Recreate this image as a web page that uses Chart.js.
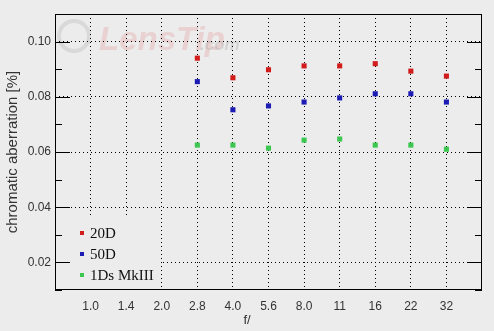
<!DOCTYPE html>
<html>
<head>
<meta charset="utf-8">
<script src="https://cdn.jsdelivr.net/npm/chart.js@4"></script>
<style>
html, body { margin: 0; padding: 0; background: #ececec; }
#wrap { width: 494px; height: 331px; }
</style>
</head>
<body>
<div id="wrap"><canvas id="myChart"></canvas></div>
<script>
const fStops = ['1.0', '1.4', '2.0', '2.8', '4.0', '5.6', '8.0', '11', '16', '22', '32'];
const ca20D = [null, null, null, 0.0940, 0.0869, 0.0898, 0.0912, 0.0912, 0.0920, 0.0893, 0.0875];
const ca50D = [null, null, null, 0.0855, 0.0753, 0.0767, 0.0781, 0.0796, 0.0811, 0.0811, 0.0781];
const ca1Ds = [null, null, null, 0.0625, 0.0625, 0.0614, 0.0643, 0.0647, 0.0625, 0.0625, 0.0610];
const seriesNames = ['20D', '50D', '1Ds MkIII'];
const seriesColors = ['#d21c1c', '#1c1cb4', '#3cc850'];

function points(arr) {
    return arr.map((v, i) => v === null ? null : { x: i + 1, y: v }).filter(p => p);
}

const extras = {
    id: 'extras',
    beforeDraw(chart) {
        // faint LensTip watermark
        const { ctx, chartArea: a } = chart;
        ctx.save();
        ctx.strokeStyle = 'rgba(160,160,160,0.25)';
        ctx.lineWidth = 4;
        ctx.beginPath();
        ctx.arc(a.left + 19, a.top + 22, 15, 0, Math.PI * 2);
        ctx.stroke();
        ctx.fillStyle = 'rgba(225,140,140,0.28)';
        ctx.font = 'italic bold 33px "Liberation Sans", Arial, sans-serif';
        ctx.textBaseline = 'alphabetic';
        ctx.fillText('LensTip', a.left + 44, a.top + 36);
        ctx.fillStyle = 'rgba(150,150,150,0.28)';
        ctx.font = 'italic bold 17px "Liberation Sans", Arial, sans-serif';
        ctx.fillText('.com', a.left + 145, a.top + 36);
        ctx.restore();
    },
    beforeDatasetsDraw(chart) {
        const { ctx, chartArea: a, scales: { y } } = chart;
        ctx.save();
        // legend box
        ctx.fillStyle = '#ececec';
        ctx.fillRect(a.left, a.bottom - 75, 106, 75);
        // inward ticks on both sides
        ctx.strokeStyle = '#000';
        ctx.lineWidth = 1;
        for (let v = 1; v <= 11; v++) {
            const py = Math.round(y.getPixelForValue(v / 100)) + 0.5;
            const len = v % 2 === 0 ? 15 : 7;
            ctx.beginPath();
            ctx.moveTo(a.left, py); ctx.lineTo(a.left + len, py);
            ctx.moveTo(a.right - len, py); ctx.lineTo(a.right, py);
            ctx.stroke();
        }
        // frame
        ctx.strokeRect(a.left + 0.5, a.top + 0.5, a.right - a.left - 1, a.bottom - a.top - 1);
        // legend
        ctx.font = '15px "Liberation Serif", "Times New Roman", serif';
        ctx.textBaseline = 'middle';
        seriesNames.forEach((name, i) => {
            const cy = a.bottom - 57 + i * 21;
            ctx.fillStyle = seriesColors[i];
            ctx.fillRect(a.left + 25, Math.round(cy) - 2, 4, 4);
            ctx.fillStyle = '#111';
            ctx.fillText(name, a.left + 35, cy + 1);
        });
        // x title
        ctx.fillStyle = '#333';
        ctx.font = '13px "Liberation Sans", Arial, sans-serif';
        ctx.textAlign = 'center';
        ctx.fillText('f/', 247, 320);
        ctx.restore();
    }
};

const ctx = document.getElementById('myChart');
new Chart(ctx, {
    type: 'scatter',
    data: {
        datasets: [ca20D, ca50D, ca1Ds].map((arr, i) => ({
            label: seriesNames[i],
            data: points(arr),
            pointStyle: 'rect',
            pointRadius: 3.6,
            pointHoverRadius: 3.6,
            borderWidth: 0,
            backgroundColor: seriesColors[i]
        }))
    },
    options: {
        responsive: true,
        maintainAspectRatio: false,
        animation: false,
        layout: { padding: { top: 14, right: 12, left: 0, bottom: 0 } },
        plugins: {
            legend: { display: false },
            tooltip: { enabled: false }
        },
        scales: {
            x: {
                type: 'linear',
                min: 0,
                max: 12,
                afterFit(scale) { scale.height = 41; },
                ticks: {
                    stepSize: 1,
                    padding: 9,
                    color: '#333',
                    font: { family: '"Liberation Sans", Arial, sans-serif', size: 12 },
                    callback: v => fStops[v - 1] || ''
                },
                grid: {
                    drawTicks: false,
                    color: c => (c.tick && c.tick.value >= 1 && c.tick.value <= 11) ? '#000' : 'rgba(0,0,0,0)'
                },
                border: { display: false, dash: [1, 3] }
            },
            y: {
                min: 0.01,
                max: 0.11,
                afterFit(scale) { scale.width = 55; },
                ticks: {
                    stepSize: 0.01,
                    padding: 4,
                    color: '#333',
                    font: { family: '"Liberation Sans", Arial, sans-serif', size: 12 },
                    callback: v => Math.round(v * 100) % 2 === 0 ? v.toFixed(2) : ''
                },
                grid: {
                    drawTicks: false,
                    color: c => {
                        if (!c.tick) return 'rgba(0,0,0,0)';
                        const h = Math.round(c.tick.value * 100);
                        return (h % 2 === 0 && h >= 2 && h <= 10) ? '#000' : 'rgba(0,0,0,0)';
                    }
                },
                border: { display: false, dash: [1, 3] },
                title: {
                    display: true,
                    text: 'chromatic aberration [%]',
                    color: '#333',
                    padding: { top: 4, bottom: 0 },
                    font: { family: '"Liberation Sans", Arial, sans-serif', size: 15 }
                }
            }
        }
    },
    plugins: [extras]
});
</script>
</body>
</html>
